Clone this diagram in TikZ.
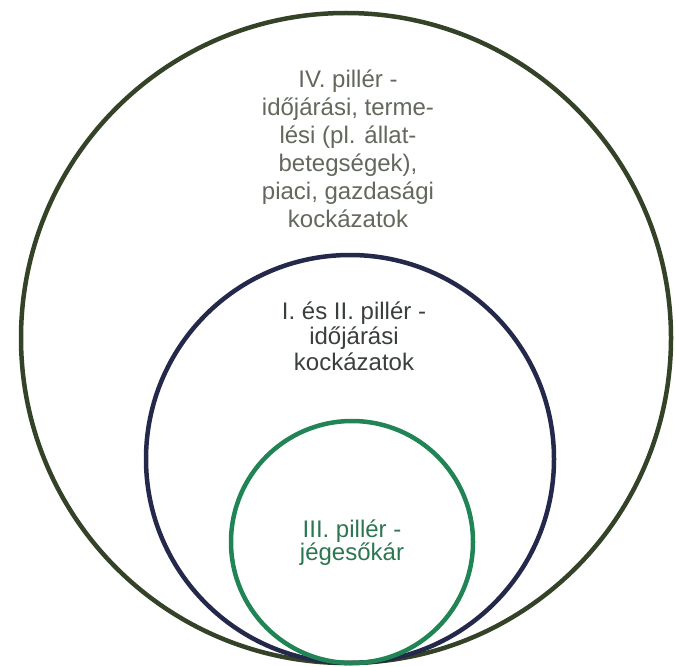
\documentclass[tikz,border=0pt]{standalone}
\usepackage{fontspec}
\setmainfont{Liberation Sans}
\usetikzlibrary{positioning}

\definecolor{outerline}{RGB}{52,66,40}
\definecolor{middleline}{RGB}{36,40,74}
\definecolor{innerline}{RGB}{32,132,84}
\definecolor{outertext}{RGB}{98,104,92}
\definecolor{middletext}{RGB}{58,62,62}
\definecolor{innertext}{RGB}{44,118,80}

\begin{document}
\begin{tikzpicture}[
    x=1pt, y=-1pt,
    ring/.style={line width=4.5pt},
    pillar text/.style={align=center, inner sep=0pt},
]
\useasboundingbox (0,0) rectangle (676,666);

% Circles, all touching at the bottom
\draw[ring, outerline] (346,338) circle[radius=325];
\draw[ring, middleline] (350,459) circle[radius=204];
\draw[ring, innerline] (352,542) circle[radius=121];

% Labels
\node[pillar text, text=outertext, font=\fontsize{24}{28}\selectfont] (outer) at (348,149) {IV. pillér -\\időjárási, terme-\\lési (pl. állat-\\betegségek),\\piaci, gazdasági\\kockázatok};
\node[pillar text, text=middletext, font=\fontsize{24}{25.5}\selectfont] (middle) at (354,336) {I. és II. pillér -\\időjárási\\kockázatok};
\node[pillar text, text=innertext, font=\fontsize{24}{23}\selectfont] (inner) at (352,543) {III. pillér -\\jégesőkár};

\end{tikzpicture}
\end{document}
